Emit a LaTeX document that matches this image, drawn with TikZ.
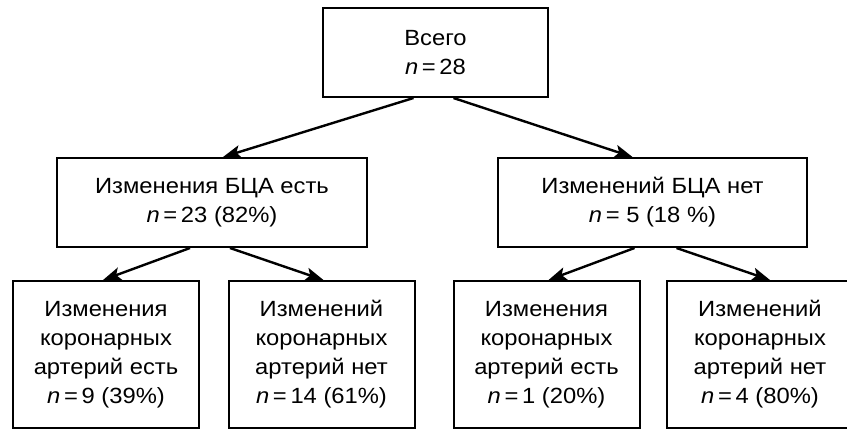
\documentclass[tikz,border=0pt]{standalone}
\usepackage{fontspec}
\setmainfont{Liberation Sans}[FakeStretch=1.08]
\usetikzlibrary{arrows.meta}
\tikzset{
    %Define standard arrow tip
    >={Stealth[length=9pt,width=6.5pt,inset=2pt]},
    %Define style for boxes
    group/.style={
           rectangle,
           draw=black, line width=1pt,
           minimum height=44.5pt,
           font=\fontsize{11}{14.5}\selectfont,
           align=center,
           inner sep=0pt},
    leaf/.style={
           group,
           minimum width=93pt,
           minimum height=73.5pt},
    % Define arrow style
    pil/.style={
           ->,
           line width=1.2pt}
}

\begin{document}
\begin{tikzpicture}[x=0.5pt,y=-0.5pt]
\useasboundingbox (0,0) rectangle (847,430);
 %nodes
\node[group, minimum width=112.5pt](all) at (435.5,52.5){Всего\\\textit{n}\,=\,28};
\node[group, minimum width=155pt](bca) at (212,202.5){Изменения БЦА есть\\\textit{n}\,=\,23 (82\%)};
\node[group, minimum width=154.5pt](nobca) at (652.5,202.5){Изменений БЦА нет\\\textit{n}\,=\ 5 (18 \%)};
\node[leaf](bca1) at (106,354.5){Изменения\\коронарных\\артерий есть\\\textit{n}\,=\,9 (39\%)};
\node[leaf](bca2) at (321.5,354.5){Изменений\\коронарных\\артерий нет\\\textit{n}\,=\,14 (61\%)};
\node[leaf](nobca1) at (546.5,354.5){Изменения\\коронарных\\артерий есть\\\textit{n}\,=\,1 (20\%)};
\node[leaf](nobca2) at (760,354.5){Изменений\\коронарных\\артерий нет\\\textit{n}\,=\,4 (80\%)};
 %arrows
\draw[pil] ([xshift=-11pt]all.south) -- ([xshift=5.5pt]bca.north);
\draw[pil] ([xshift=9pt]all.south) -- ([xshift=-10pt]nobca.north);
\draw[pil] ([xshift=-11pt]bca.south) -- ([xshift=-1.5pt]bca1.north);
\draw[pil] ([xshift=9pt]bca.south) -- ([xshift=1pt]bca2.north);
\draw[pil] ([xshift=-9pt]nobca.south) -- ([xshift=1pt]nobca1.north);
\draw[pil] ([xshift=12pt]nobca.south) -- ([xshift=5pt]nobca2.north);
\end{tikzpicture}
\end{document}
